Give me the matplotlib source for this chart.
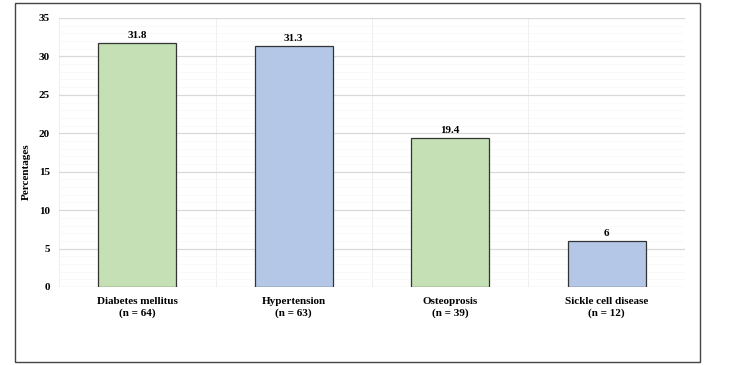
import matplotlib.pyplot as plt
from matplotlib.patches import Rectangle
import numpy as np

plt.rcParams['font.family'] = ['Liberation Serif', 'DejaVu Serif']
plt.rcParams['font.weight'] = 'bold'

# Дані
categories = ["Diabetes mellitus\n(n = 64)", "Hypertension\n(n = 63)",
              "Osteoprosis\n(n = 39)", "Sickle cell disease\n(n = 12)"]
values = [31.8, 31.3, 19.4, 6]
value_labels = ["31.8", "31.3", "19.4", "6"]
colors = ['#c5e0b4', '#b4c7e7', '#c5e0b4', '#b4c7e7']

fig = plt.figure(figsize=(7.5, 3.65), dpi=100)
ax = fig.add_axes([0.0787, 0.2137, 0.8346, 0.737])

x = np.arange(len(values))
bars = ax.bar(x, values, width=0.5, color=colors, edgecolor='#333333', linewidth=0.9, zorder=3)

for b, lab in zip(bars, value_labels):
    ax.text(b.get_x() + b.get_width() / 2, b.get_height() + 0.4, lab,
            ha='center', va='bottom', fontsize=8, fontweight='bold')

ax.set_xlim(-0.5, len(values) - 0.5)
ax.set_ylim(0, 35)
ax.set_yticks(np.arange(0, 36, 5))
ax.set_yticks(np.arange(0, 36, 1), minor=True)
ax.set_xticks(x)
ax.set_xticklabels(categories, fontsize=8, fontweight='bold', linespacing=1.3)
ax.tick_params(axis='both', which='both', length=0, labelsize=8)
ax.tick_params(axis='y', pad=6.5)
ax.tick_params(axis='x', pad=7)
ax.set_ylabel("Percentages", fontsize=8, fontweight='bold')
ax.yaxis.set_label_coords(-0.045, 0.43)

# Сітка
ax.grid(axis='y', which='major', color='#d9d9d9', linewidth=0.9, zorder=0)
ax.grid(axis='y', which='minor', color='#f7f7f7', linewidth=0.5, zorder=0)
for xb in np.arange(-0.5, len(values), 1.0):
    ax.axvline(xb, color='#ececec', linewidth=0.6, zorder=0)

for s in ax.spines.values():
    s.set_visible(False)

# Рамка навколо графіка
fig.patches.append(Rectangle((15 / 750, 3 / 365), 685 / 750, 359 / 365,
                             transform=fig.transFigure, fill=False,
                             edgecolor='#444444', linewidth=1.0))

fig.savefig('out.png', dpi=100)
